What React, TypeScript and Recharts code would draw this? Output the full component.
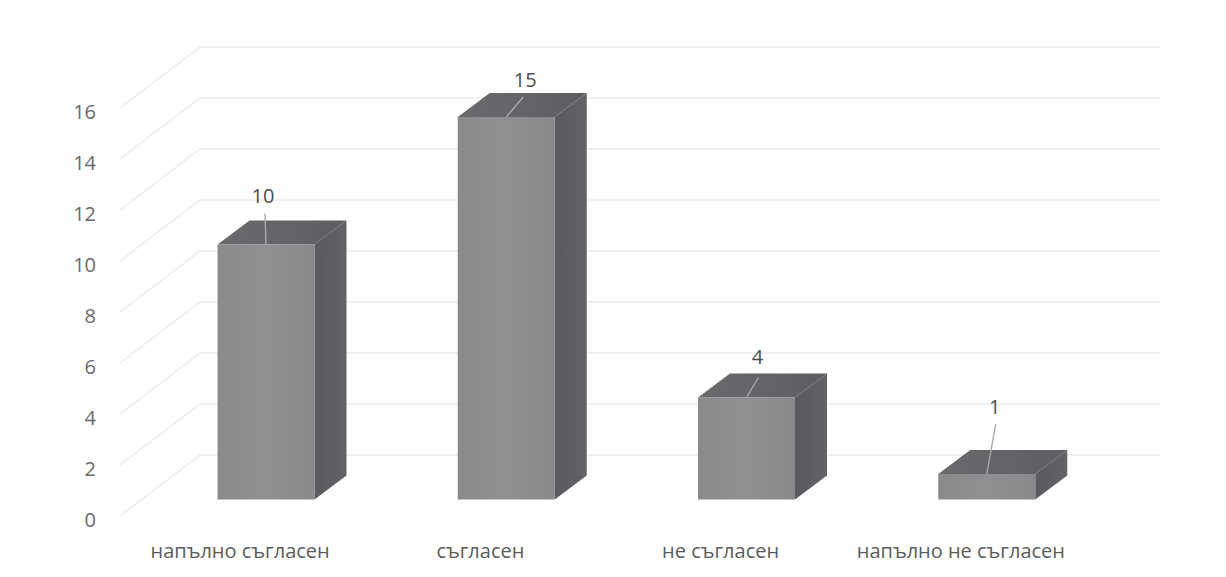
import React from "react";
import { BarChart, Bar, XAxis, YAxis, CartesianGrid, LabelList } from "recharts";

const categories = ["напълно съгласен", "съгласен", "не съгласен", "напълно не съгласен"];
const values = [10, 15, 4, 1];
const yTicks = [0, 2, 4, 6, 8, 10, 12, 14, 16];
const chartData = categories.map((name, i) => ({ name, value: values[i] }));

const FONT = "'Open Sans', sans-serif";
// 3D projection of the chart
const FLOOR_DX = 25.5;
const FLOOR_DY = -16.5;
const BAR_DEPTH_X = 32;
const BAR_DEPTH_Y = -24;
const WALL_DX = 80;
const WALL_DY = -61;
const WALL_RIGHT = 1160;
// Data-label placement relative to the front-top of each bar: leader end, text position
const leaders = [
  { toX: -1, toY: -31, textX: -3, textY: -49 },
  { toX: 17, toY: -20, textX: 19, textY: -38 },
  { toX: 12, toY: -20, textX: 11, textY: -41 },
  { toX: 9, toY: -50, textX: 8, textY: -68 },
];

function Bar3D(props: any) {
  const { x, y, width, height } = props;
  const left = x + FLOOR_DX;
  const top = y + FLOOR_DY;
  const right = left + width;
  const bottom = top + height;
  const dx = BAR_DEPTH_X;
  const dy = BAR_DEPTH_Y;
  return (
    <g>
      <polygon points={`${left},${top} ${left + dx},${top + dy} ${right + dx},${top + dy} ${right},${top}`} fill="url(#barTop)" />
      <polygon points={`${right},${top} ${right + dx},${top + dy} ${right + dx},${bottom + dy} ${right},${bottom}`} fill="url(#barSide)" />
      <rect x={left} y={top} width={width} height={height} fill="url(#barFront)" />
    </g>
  );
}

function DataLabel(props: any) {
  const { x, y, width, value, index } = props;
  const cx = x + FLOOR_DX + width / 2;
  const cy = y + FLOOR_DY;
  const l = leaders[index];
  return (
    <g>
      <line x1={cx} y1={cy} x2={cx + l.toX} y2={cy + l.toY} stroke="#a9a9ab" strokeWidth={1.4} />
      <text x={cx + l.textX} y={cy + l.textY} textAnchor="middle" dominantBaseline="central" fontFamily={FONT} fontSize={20} fill="#4e4e4e">
        {value}
      </text>
    </g>
  );
}

function WallLine(props: any) {
  const { x1, y1, index } = props;
  const d = `M${x1},${y1} L${x1 + WALL_DX},${y1 + WALL_DY} L${WALL_RIGHT},${y1 + WALL_DY}`;
  return <path key={`wall-${index}`} d={d} fill="none" stroke="#ececec" strokeWidth={1.3} />;
}

export default function App() {
  return (
    <div style={{ position: "absolute", left: 0, top: 0, width: 1226, height: 577, background: "#fefefe", overflow: "hidden" }}>
      <BarChart
        width={1226}
        height={577}
        data={chartData}
        margin={{ top: 108, right: 145, bottom: 21, left: 60 }}
        barCategoryGap={0}
      >
        <defs>
          <linearGradient id="barFront" x1="0" y1="0" x2="1" y2="0">
            <stop offset="0" stopColor="#888a8c" />
            <stop offset="0.5" stopColor="#909092" />
            <stop offset="1" stopColor="#89898b" />
          </linearGradient>
          <linearGradient id="barSide" x1="0" y1="0" x2="1" y2="0">
            <stop offset="0" stopColor="#5a5a5e" />
            <stop offset="1" stopColor="#636367" />
          </linearGradient>
          <linearGradient id="barTop" x1="0" y1="0" x2="1" y2="0">
            <stop offset="0" stopColor="#6a6a6d" />
            <stop offset="1" stopColor="#5e5e62" />
          </linearGradient>
        </defs>
        <CartesianGrid vertical={false} horizontal={(p: any) => <WallLine {...p} />} />
        <XAxis
          dataKey="name"
          axisLine={false}
          tickLine={false}
          height={40}
          interval={0}
          tickMargin={22}
          tick={{ fontFamily: FONT, fontSize: 20, fill: "#5c5c5c" }}
        />
        <YAxis
          domain={[0, 16]}
          ticks={yTicks}
          width={60}
          axisLine={false}
          tickLine={false}
          tickMargin={18}
          tick={{ fontFamily: FONT, fontSize: 20, fill: "#6a6a6a", dy: 4 }}
        />
        <Bar dataKey="value" barSize={97} shape={<Bar3D />} isAnimationActive={false}>
          <LabelList dataKey="value" content={<DataLabel />} />
        </Bar>
      </BarChart>
    </div>
  );
}
